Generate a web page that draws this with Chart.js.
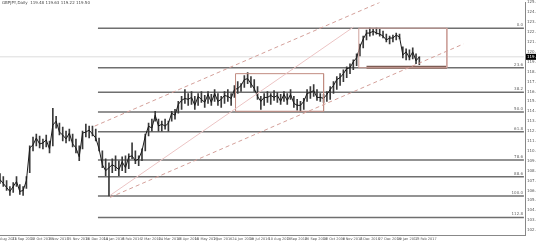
<!DOCTYPE html>
<html lang="en">
<head>
<meta charset="UTF-8">
<title>Daily chart</title>
<script src="https://cdn.jsdelivr.net/npm/chart.js"></script>
<style>
  html, body { margin: 0; padding: 0; background: #fff; }
  #wrap { width: 536px; height: 242px; }
</style>
</head>
<body>
<div id="wrap"><canvas id="myChart" width="536" height="242"></canvas></div>

<script>
// one sample = 3 daily bars
const sampleStep = 3;
const hi = [107.7,107.4,107.0,106.4,106.8,107.4,106.6,106.4,107.4,110.5,
  111.4,111.7,111.5,111.2,111.6,111.0,114.3,113.5,112.8,112.4,
  112.0,112.2,111.7,111.2,110.5,112.0,112.7,112.5,112.5,112.2,
  111.3,110.0,109.2,108.8,109.2,109.5,109.0,109.4,109.5,109.7,
  110.8,110.0,109.5,110.2,111.7,112.8,113.2,114.0,113.2,113.0,
  113.2,113.0,114.0,114.2,115.0,115.5,116.2,115.8,116.0,115.5,
  115.8,116.0,115.6,116.0,115.7,116.2,115.8,115.5,116.0,116.2,
  115.8,116.6,117.0,116.8,117.6,117.9,117.5,117.2,116.5,115.5,
  115.8,116.0,115.8,116.1,115.9,115.7,116.0,115.8,116.2,115.5,
  115.2,115.0,115.3,116.2,116.5,116.7,116.2,115.8,115.7,116.0,
  116.5,117.0,117.5,117.8,118.2,118.5,118.8,119.2,119.8,120.8,
  121.6,122.2,122.4,122.3,122.4,122.3,122.1,121.8,121.6,121.7,
  121.9,121.8,120.5,120.3,120.2,120.4,119.8,119.5];
const lo = [106.7,106.4,106.0,105.5,105.8,106.4,105.6,105.5,106.2,107.8,
  110.0,110.5,110.3,110.2,110.4,109.8,110.5,112.3,111.6,111.0,
  110.8,111.0,110.4,109.8,109.0,110.2,111.4,111.3,111.5,111.0,
  110.0,108.3,107.5,105.45,107.8,108.0,107.5,108.0,107.8,108.2,
  109.2,108.7,108.5,109.0,110.0,111.5,112.0,113.0,112.0,112.0,
  112.2,112.0,113.0,113.2,113.8,114.2,114.8,114.6,114.7,114.2,
  114.6,114.9,114.4,114.8,114.6,115.0,114.6,114.4,114.8,115.0,
  114.6,115.4,115.8,116.0,116.4,116.8,116.4,116.0,115.2,114.2,
  114.6,114.9,114.7,115.1,114.9,114.7,115.0,114.7,115.2,114.4,
  114.1,114.0,114.2,115.0,115.3,115.5,115.1,115.0,114.9,115.0,
  115.2,115.8,116.2,116.6,117.0,117.4,117.8,118.2,118.6,119.6,
  120.4,121.2,121.6,121.7,121.8,121.6,121.4,121.0,120.8,121.0,
  121.2,121.3,119.4,119.2,119.2,119.3,118.8,118.7];
// sample closes
const close = [107.1,106.7,106.3,105.9,106.4,106.9,105.9,106.0,107.0,110.3,
  110.6,111.3,110.7,110.8,111.1,110.2,112.6,113.0,111.9,111.6,
  111.2,111.8,110.7,110.3,109.4,111.8,111.9,112.1,111.7,111.3,
  110.2,108.6,108.0,108.3,108.6,108.4,108.1,108.9,108.3,109.4,
  109.5,109.0,109.2,110.0,111.5,112.5,112.3,113.6,112.5,112.7,
  112.5,112.8,113.8,113.6,114.7,115.1,115.3,115.2,115.4,114.6,
  115.5,115.2,114.9,115.7,114.9,115.8,115.0,115.2,115.6,115.5,
  115.3,116.2,116.3,116.6,117.2,117.3,116.8,116.3,115.5,115.0,
  115.4,115.4,115.6,115.4,115.6,115.0,115.7,115.1,115.7,114.8,
  114.6,114.6,115.0,115.8,115.9,116.1,115.4,115.4,115.3,115.7,
  116.2,116.6,117.2,117.4,117.8,118.3,118.4,119.0,119.4,120.5,
  121.3,121.9,121.9,122.1,121.9,121.8,121.6,121.2,121.4,121.4,
  121.7,121.5,119.7,120.0,119.4,120.0,119.1,119.5];
const lastPrice = 119.50;

// date labels and the bar index where each one sits
const tickBars = [0,11,28,44,61,78,94,111,128,144,161,177,194,211,227,244,261,277,294,311,327,344,361,377];
const tickLabels = ['Aug 2015','21 Sep 2015','13 Oct 2015','3 Nov 2015','25 Nov 2015','16 Dec 2015',
  '14 Jan 2016','8 Feb 2016','2 Mar 2016','24 Mar 2016','18 Apr 2016','10 May 2016','2 Jun 2016',
  '24 Jun 2016','19 Jul 2016','10 Aug 2016','2 Sep 2016','26 Sep 2016','18 Oct 2016','9 Nov 2016',
  '2 Dec 2016','27 Dec 2016','19 Jan 2017','13 Feb 2017'];

// fibonacci drawn from the Jan 2016 low to the Dec 2016 high
const fibHigh = 122.40;
const fibLow = 105.45;
const fibLevels = [0, 23.6, 38.2, 50.0, 61.8, 78.6, 88.6, 100.0, 112.8];
const fibFromBar = 89;
const fibToBar = 476;

// boxes: [fromBar, toBar, top, bottom]
const rangeBox = [214, 294, 117.8, 114.0];
const topBox = [326, 406, 122.4, 118.4];
const supportLine = [[333, 118.45], [406, 118.45]];
// channel lines: [bar, price] pairs
const upperChannel = [[86, 112.5], [345, 125.0]];
const midTrend = [[100, 105.5], [321, 122.5]];
const lowerChannel = [[100, 105.3], [421, 120.8]];

const fibPrice = lv => fibHigh - lv / 100 * (fibHigh - fibLow);
const pts = arr => arr.map(p => ({x: p[0], y: p[1]}));
const box = b => [{x:b[0],y:b[2]},{x:b[1],y:b[2]},{x:b[1],y:b[3]},{x:b[0],y:b[3]},{x:b[0],y:b[2]}];
const lineDs = (data, color, width, dash, order) => ({
  type: 'line', data: data, borderColor: color, borderWidth: width,
  borderDash: dash || [], pointRadius: 0, fill: false, tension: 0, order: order || 0
});

const datasets = [];
datasets.push(lineDs([{x:0,y:lastPrice},{x:fibToBar,y:lastPrice}], '#dcdcdc', 1, null, 3));
fibLevels.forEach(lv => {
  datasets.push(lineDs([{x:fibFromBar,y:fibPrice(lv)},{x:fibToBar,y:fibPrice(lv)}], '#6f6f6f', 1.5, null, 2));
});
datasets.push(lineDs(pts(upperChannel), '#d4a09a', 1, [4, 3]));
datasets.push(lineDs(pts(lowerChannel), '#d4a09a', 1, [4, 3]));
datasets.push(lineDs(pts(midTrend), '#ecc4c4', 1));
datasets.push(lineDs(box(rangeBox), '#c28c82', 1));
datasets.push(lineDs(box(topBox), '#cfa29c', 1));
datasets.push(lineDs(pts(supportLine), '#7d5c54', 3));
datasets.push(lineDs(close.map((c, i) => ({x: i * sampleStep, y: c})), '#1a1a1a', 1, null, 1));
datasets.push({
  type: 'bar',
  data: hi.map((h, i) => ({x: i * sampleStep, y: [lo[i], h]})),
  backgroundColor: '#3a3a3a',
  barThickness: 1,
  order: 1
});

const overlay = {
  id: 'overlay',
  afterDatasetsDraw(chart) {
    const {ctx, chartArea, scales: {y}} = chart;
    ctx.save();
    ctx.font = '4px "DejaVu Sans"';
    ctx.fillStyle = '#666';
    ctx.textAlign = 'right';
    ctx.textBaseline = 'bottom';
    fibLevels.forEach(lv => {
      ctx.fillText(lv.toFixed(1), chartArea.right - 2, y.getPixelForValue(fibPrice(lv)) - 1);
    });
    // last price tag
    const py = y.getPixelForValue(lastPrice);
    ctx.fillStyle = '#000';
    ctx.fillRect(chartArea.right + 1, py - 3, 11, 6);
    ctx.fillStyle = '#fff';
    ctx.textAlign = 'left';
    ctx.textBaseline = 'middle';
    ctx.fillText(lastPrice.toFixed(2), chartArea.right + 2, py);
    // header
    ctx.fillStyle = '#444';
    ctx.textBaseline = 'top';
    ctx.fillText('GBPJPY,Daily  119.48 119.63 119.22 119.50', 2, 1);
    ctx.restore();
  }
};

new Chart(document.getElementById('myChart'), {
  type: 'bar',
  data: { datasets: datasets },
  plugins: [overlay],
  options: {
    responsive: false,
    animation: false,
    devicePixelRatio: 1,
    layout: { padding: 0 },
    plugins: { legend: { display: false }, tooltip: { enabled: false } },
    scales: {
      x: {
        type: 'linear', min: 0, max: 477, offset: false,
        grid: { display: false, drawTicks: true, tickLength: 2, color: '#888' },
        border: { display: true, color: '#888' },
        afterBuildTicks: s => { s.ticks = tickBars.map(v => ({value: v})); },
        afterFit: s => { s.height = 7; },
        ticks: {
          autoSkip: false, maxRotation: 0, align: 'start', padding: 0,
          color: '#555', font: { size: 3.5, family: 'DejaVu Sans' },
          callback: (v, i) => tickLabels[i]
        }
      },
      y: {
        position: 'right', min: 101.5, max: 125,
        grid: { display: false, drawTicks: true, tickLength: 2, color: '#888' },
        border: { display: true, color: '#888' },
        afterBuildTicks: s => { s.ticks = s.ticks.filter(t => Number.isInteger(t.value)); },
        afterFit: s => { s.width = 11; },
        ticks: {
          stepSize: 1, padding: 0,
          color: '#555', font: { size: 4, family: 'DejaVu Sans' },
          callback: v => v.toFixed(2)
        }
      }
    }
  }
});
</script>
</body>
</html>
